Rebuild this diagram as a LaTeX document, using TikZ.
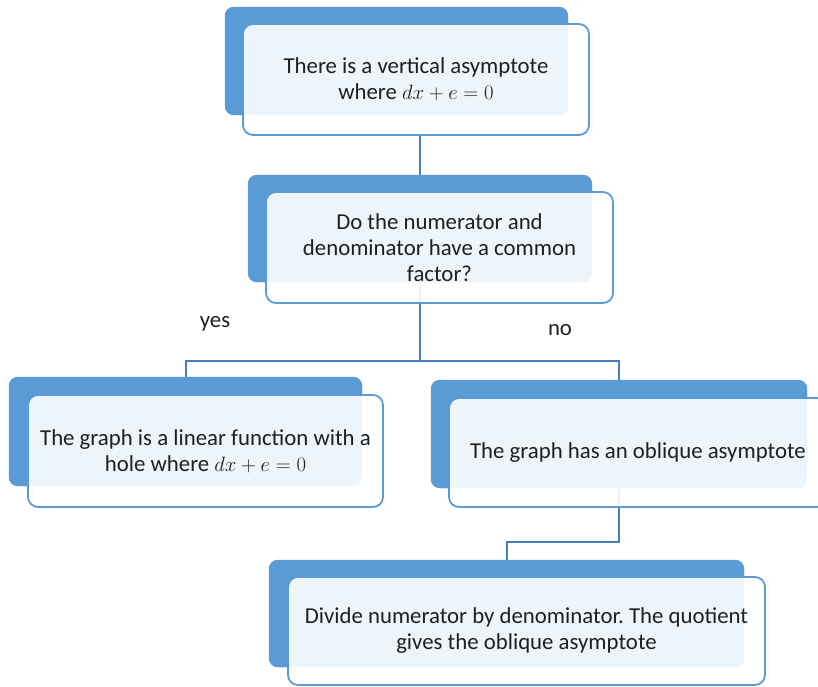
\documentclass[tikz,border=0pt]{standalone}
\usepackage{fontspec}
\setmainfont{Carlito}
\frenchspacing
\definecolor{boxblue}{HTML}{5B9BD5}
\definecolor{linkblue}{HTML}{4A7EBB}
\begin{document}
\begin{tikzpicture}[x=1pt,y=-1pt,
  back/.style={draw=none, fill=boxblue, rounded corners=9pt, inner sep=0pt},
  front/.style={draw=boxblue, line width=1.8pt, fill=white, fill opacity=0.9, text opacity=1, rounded corners=10pt, inner sep=0pt, align=center, font=\fontsize{22.8}{26}\selectfont, text=black!88},
  conn/.style={draw=linkblue, line width=2pt},
  lbl/.style={font=\fontsize{22.8}{26}\selectfont, text=black!88}]
\useasboundingbox (0,0) rectangle (818,686);
\clip (0,0) rectangle (818,686);
\coordinate (m2) at (419,361);
\coordinate (m4) at (619,542);
\coordinate (t1) at (420,135);
% back boxes
\node[back, minimum width=343pt, minimum height=108pt] (b1) at (396.5,61) {};
\node[back, minimum width=344pt, minimum height=107pt] (b2) at (420,228.5) {};
\node[back, minimum width=353pt, minimum height=109pt] (b3) at (185.5,431.5) {};
\node[back, minimum width=376pt, minimum height=108pt] (b4) at (619,434) {};
\node[back, minimum width=475pt, minimum height=107pt] (b5) at (506.5,613.5) {};
% connectors
\draw[conn] (t1 -| b2.north) -- (b2.north);
\draw[conn] (b2.center) -- (b2.center |- m2) -| (b3.north);
\draw[conn] (b2.center) -- (b2.center |- m2) -| (b4.north);
\draw[conn] (b4.center) -- (b4.center |- m4) -| (b5.north);
% redraw back boxes over connectors
\fill[boxblue, rounded corners=9pt] (b1.north west) rectangle (b1.south east);
\fill[boxblue, rounded corners=9pt] (b2.north west) rectangle (b2.south east);
\fill[boxblue, rounded corners=9pt] (b3.north west) rectangle (b3.south east);
\fill[boxblue, rounded corners=9pt] (b4.north west) rectangle (b4.south east);
\fill[boxblue, rounded corners=9pt] (b5.north west) rectangle (b5.south east);
% front boxes
\node[front, minimum width=346pt, minimum height=111pt] (f1) at (416,79.5)
  {There is a vertical asymptote\\ where $dx+e=0$};
\node[front, minimum width=347pt, minimum height=111pt] (f2) at (439.5,247.5)
  {Do the numerator and\\ denominator have a common\\ factor?};
\node[front, minimum width=355pt, minimum height=112pt] (f3) at (205.5,451)
  {The graph is a linear function with a\\ hole where $dx+e=0$};
\node[front, minimum width=378pt, minimum height=109pt] (f4) at (638,452.5)
  {The graph has an oblique asymptote};
\node[front, minimum width=477pt, minimum height=108pt] (f5) at (526.5,631)
  {Divide numerator by denominator. The quotient\\ gives the oblique asymptote};
% branch labels
\node[lbl] (yes) at (215,324) {yes};
\node[lbl] (no) at (560,330) {no};
\end{tikzpicture}
\end{document}
